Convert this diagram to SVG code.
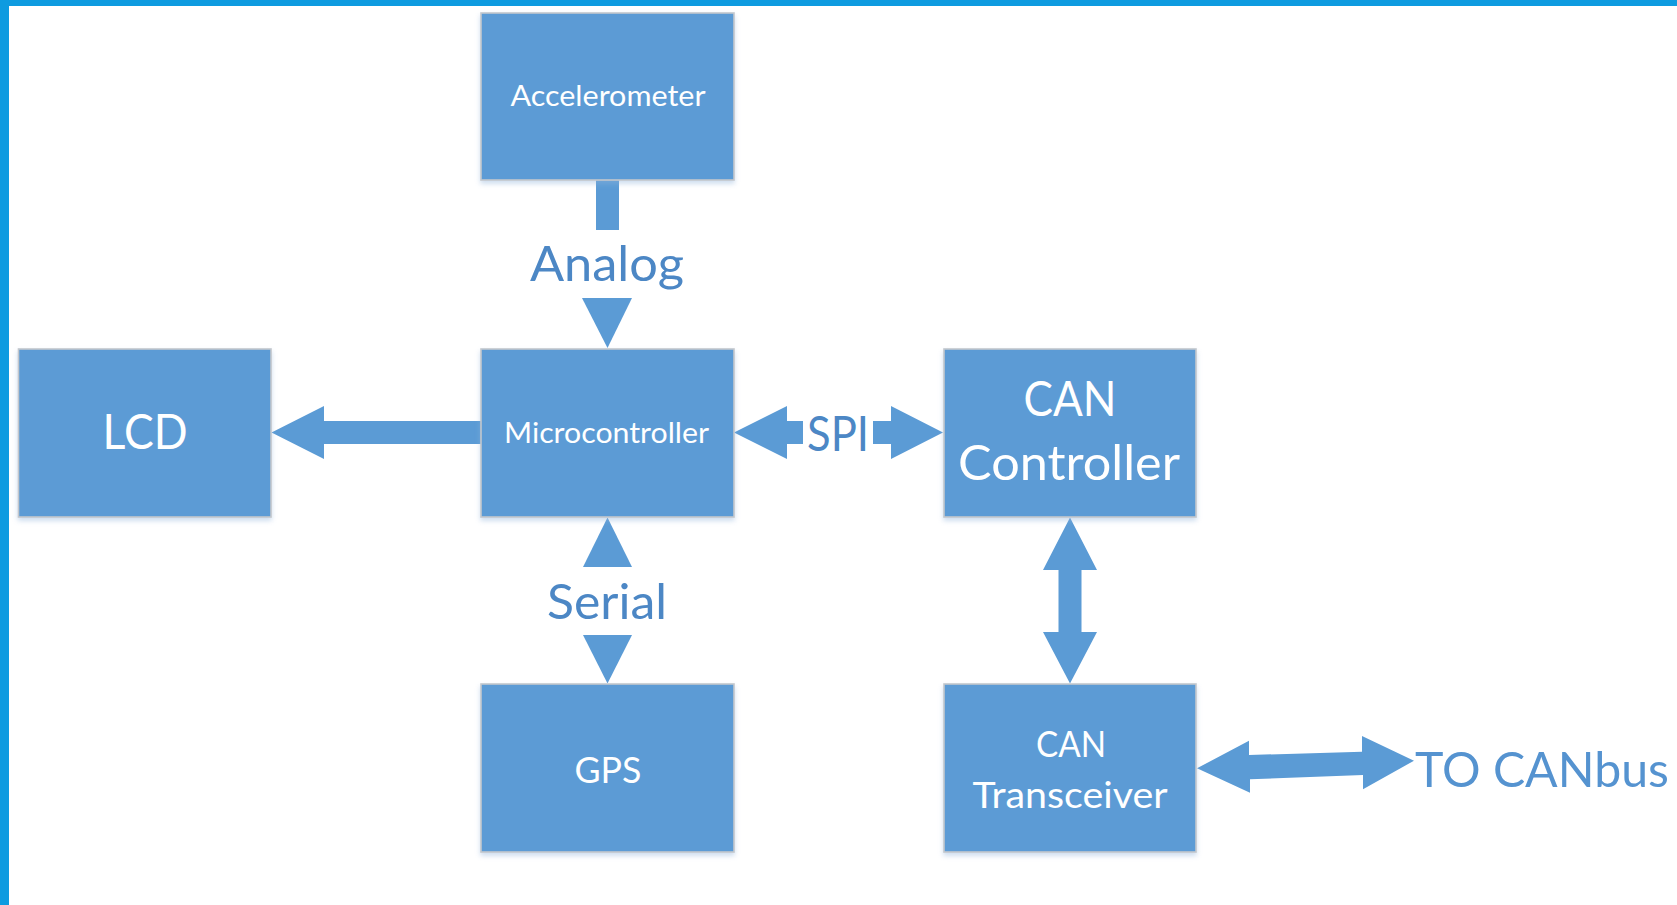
<svg xmlns="http://www.w3.org/2000/svg" width="1677" height="905" viewBox="0 0 1677 905">
<defs>
<filter id="sh" x="-10%" y="-10%" width="120%" height="130%">
<feDropShadow dx="0" dy="3" stdDeviation="2.5" flood-color="#8FB3DC" flood-opacity="0.45"/>
</filter>
<style>
.box{fill:#5B9BD5;stroke:#C3C7CC;stroke-width:1.6;filter:url(#sh)}
.t{font-family:Lato,"Open Sans","Liberation Sans",sans-serif;fill:#FFFFFF;text-anchor:middle}
.s{font-size:29px}
.m{font-size:37.5px}
.l{font-size:48.5px}
.lab{font-family:Lato,"Open Sans","Liberation Sans",sans-serif;fill:#4C87C5;font-size:48.5px;text-anchor:middle}
.arr{fill:#5B9BD5}
</style>
</defs>
<rect x="0" y="0" width="1677" height="905" fill="#FFFFFF"/>
<rect x="0" y="0" width="1677" height="6" fill="#0E9BE0"/>
<rect x="0" y="0" width="9" height="905" fill="#0E9BE0"/>

<g id="connectors">
<rect class="arr" x="596" y="180" width="23" height="50"/>
<polygon class="arr" points="582,298 632,298 607.5,348"/>
<polygon class="arr" points="271.5,432.5 324,406 324,421 481,421 481,444 324,444 324,459"/>
<polygon class="arr" points="734,432.5 787,406 787,421 803,421 803,444 787,444 787,459"/>
<polygon class="arr" points="873,421 891,421 891,406 943,432.5 891,459 891,444 873,444"/>
<polygon class="arr" points="607.5,517.5 632,567 583,567"/>
<polygon class="arr" points="583,635 632,635 607.5,683.5"/>
<polygon class="arr" points="1070,517.5 1097,570 1081.5,570 1081.5,632 1097,632 1070,683.5 1043,632 1058.5,632 1058.5,570 1043,570"/>
<polygon class="arr" points="1197,768.3 1249,740.7 1249,755 1362,751.7 1362,736 1414,760.7 1363,789.3 1363,775 1250,779.3 1250,792.7"/>
<text class="lab" x="607" y="281" textLength="154" lengthAdjust="spacingAndGlyphs">Analog</text>
<text class="lab" x="838" y="451" textLength="62" lengthAdjust="spacingAndGlyphs">SPI</text>
<text class="lab" x="607" y="619" textLength="120" lengthAdjust="spacingAndGlyphs">Serial</text>
<text class="lab" x="1415" y="787" textLength="254" lengthAdjust="spacingAndGlyphs" style="text-anchor:start;fill:#5593D0">TO CANbus</text>
</g>

<g id="accelerometer">
<rect class="box" x="481" y="13" width="253" height="167"/>
<text class="t s" x="608" y="106" textLength="195" lengthAdjust="spacingAndGlyphs">Accelerometer</text>
</g>
<g id="lcd">
<rect class="box" x="18.5" y="349" width="252.5" height="168"/>
<text class="t l" x="145" y="449" textLength="85" lengthAdjust="spacingAndGlyphs">LCD</text>
</g>
<g id="microcontroller">
<rect class="box" x="481" y="349" width="253" height="168"/>
<text class="t s" x="606.5" y="443" textLength="205" lengthAdjust="spacingAndGlyphs">Microcontroller</text>
</g>
<g id="can-controller">
<rect class="box" x="944" y="349" width="252" height="168"/>
<text class="t l" x="1070" y="416" textLength="93" lengthAdjust="spacingAndGlyphs">CAN</text>
<text class="t l" x="1069" y="480" textLength="222" lengthAdjust="spacingAndGlyphs">Controller</text>
</g>
<g id="gps">
<rect class="box" x="481" y="684" width="253" height="168"/>
<text class="t m" x="608" y="783" textLength="67" lengthAdjust="spacingAndGlyphs">GPS</text>
</g>
<g id="can-transceiver">
<rect class="box" x="944" y="684" width="252" height="168"/>
<text class="t m" x="1071" y="757" textLength="70" lengthAdjust="spacingAndGlyphs">CAN</text>
<text class="t m" x="1070" y="808" textLength="195" lengthAdjust="spacingAndGlyphs">Transceiver</text>
</g>
</svg>
